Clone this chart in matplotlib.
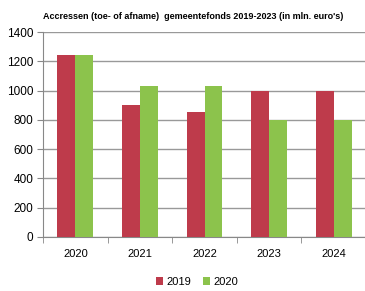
import matplotlib.pyplot as plt
import numpy as np

years = ["2020", "2021", "2022", "2023", "2024"]
vals_2019 = [1245, 900, 855, 1000, 1000]
vals_2020 = [1240, 1030, 1030, 800, 800]
yticks = [0, 200, 400, 600, 800, 1000, 1200, 1400]

plt.rcParams['font.family'] = ['Liberation Sans', 'DejaVu Sans']

fig = plt.figure(figsize=(3.65, 2.91), dpi=100)
ax = fig.add_axes([0.118, 0.186, 0.885, 0.704])

x = np.arange(len(years))
w = 0.277
ax.bar(x - w/2, vals_2019, w, color="#BE3B4B", label="2019", zorder=3)
ax.bar(x + w/2, vals_2020, w, color="#8CC34C", label="2020", zorder=3)

ax.set_xlim(-0.5, len(years) - 0.5)
ax.set_ylim(0, 1400)
ax.set_yticks(yticks)
ax.set_xticks(x)
ax.set_xticklabels(years)
ax.set_xticks(np.arange(-0.5, len(years)), minor=True)
ax.tick_params(axis='x', which='major', length=0, pad=9, labelsize=8)
ax.tick_params(axis='x', which='minor', length=4, color="#888888")
ax.tick_params(axis='y', length=4, color="#888888", labelsize=8.5, pad=3)
ax.grid(axis='y', color="#999999", linewidth=1, zorder=0)

for s in ["top", "right"]:
    ax.spines[s].set_visible(False)
for s in ["left", "bottom"]:
    ax.spines[s].set_color("#888888")

fig.text(0.528, 0.945, "Accressen (toe- of afname)  gemeentefonds 2019-2023 (in mln. euro's)",
         ha="center", va="center", fontsize=6.5, fontweight="bold")
fig.legend(loc="center", bbox_to_anchor=(0.54, 0.03), ncol=2, frameon=False,
           fontsize=8, handlelength=0.7, handleheight=0.7, columnspacing=1.0, handletextpad=0.3)

fig.savefig("out.png", dpi=100)
